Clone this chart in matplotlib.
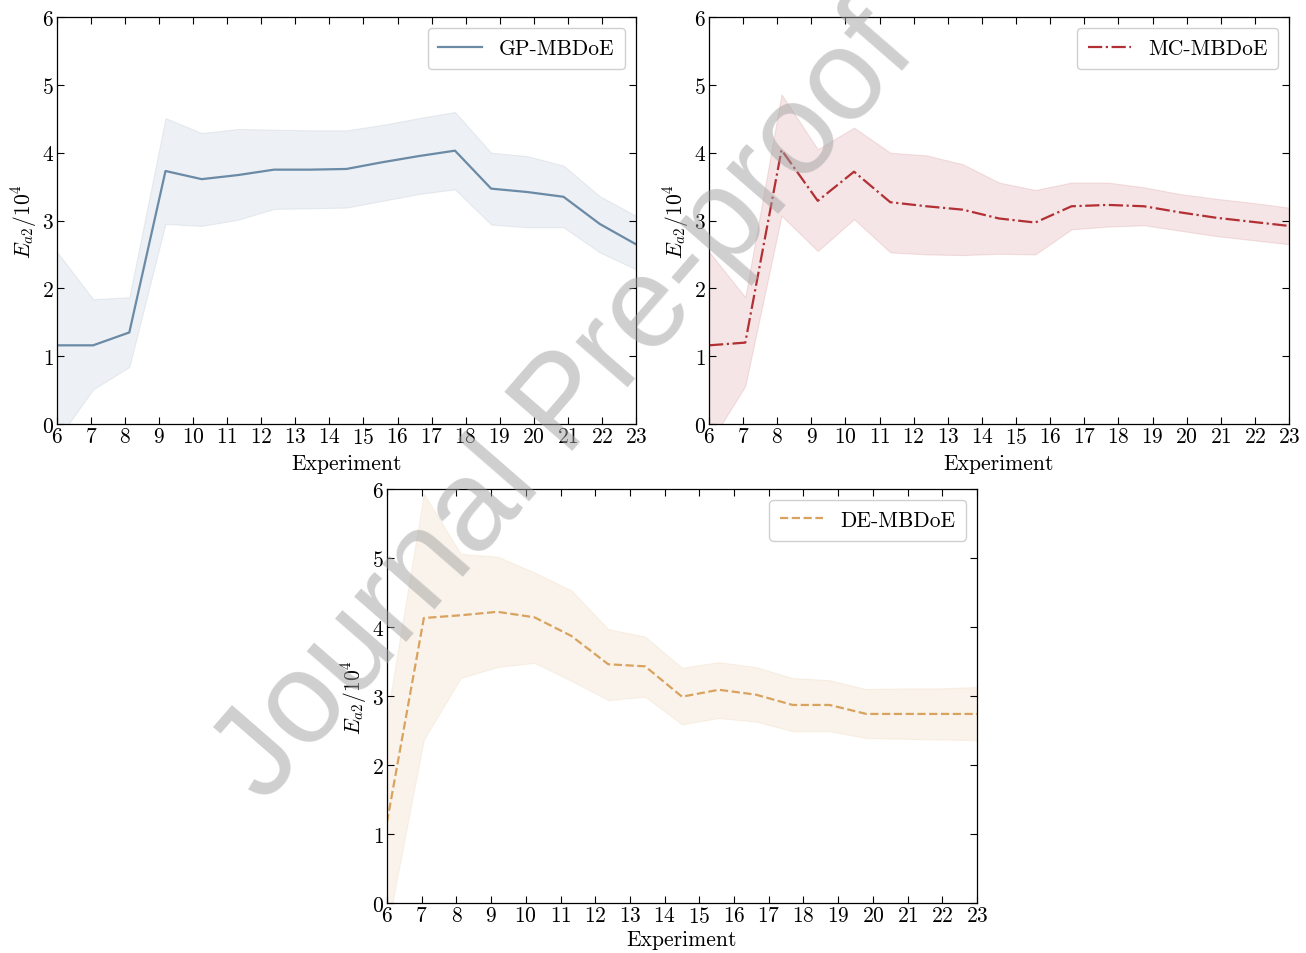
import matplotlib
matplotlib.use("Agg")
import matplotlib.pyplot as plt

# x positions of the runs (17 evaluations spread over experiments 6..23)
runs = [6.0, 7.0625, 8.125, 9.1875, 10.25, 11.3125, 12.375, 13.4375, 14.5,
        15.5625, 16.625, 17.6875, 18.75, 19.8125, 20.875, 21.9375, 23.0]

gp_mean = [1.16, 1.16, 1.35, 3.73, 3.61, 3.67, 3.75, 3.75, 3.76,
           3.86, 3.95, 4.03, 3.47, 3.42, 3.35, 2.95, 2.65]
gp_upper = [2.54, 1.84, 1.87, 4.51, 4.29, 4.35, 4.34, 4.33, 4.33,
            4.41, 4.51, 4.60, 4.00, 3.95, 3.81, 3.36, 3.07]
gp_lower = [-0.24, 0.51, 0.84, 2.95, 2.92, 3.01, 3.17, 3.18, 3.19,
            3.29, 3.39, 3.46, 2.94, 2.90, 2.90, 2.53, 2.28]

mc_mean = [1.16, 1.20, 4.04, 3.29, 3.72, 3.27, 3.21, 3.16, 3.03,
           2.97, 3.21, 3.23, 3.21, 3.12, 3.04, 2.98, 2.92]
mc_upper = [2.54, 1.87, 4.86, 4.05, 4.37, 4.00, 3.96, 3.83, 3.56,
            3.45, 3.56, 3.56, 3.49, 3.39, 3.32, 3.26, 3.19]
mc_lower = [-0.30, 0.56, 3.07, 2.55, 3.02, 2.53, 2.50, 2.49, 2.51,
            2.50, 2.87, 2.91, 2.93, 2.85, 2.77, 2.71, 2.65]

de_mean = [1.17, 4.13, 4.17, 4.22, 4.14, 3.87, 3.46, 3.43, 2.99,
           3.09, 3.02, 2.87, 2.87, 2.74, 2.74, 2.74, 2.74]
de_upper = [2.70, 5.93, 5.06, 5.02, 4.79, 4.53, 3.97, 3.86, 3.41,
            3.49, 3.42, 3.26, 3.23, 3.10, 3.11, 3.11, 3.13]
de_lower = [-0.40, 2.37, 3.26, 3.42, 3.48, 3.22, 2.94, 2.99, 2.59,
            2.68, 2.63, 2.49, 2.49, 2.39, 2.38, 2.37, 2.36]

xticks = list(range(6, 24))
yticks = list(range(0, 7))

plt.rcParams['font.family'] = 'serif'
plt.rcParams['font.serif'] = ['cmr10']
plt.rcParams['mathtext.fontset'] = 'cm'
plt.rcParams['axes.unicode_minus'] = False
plt.rcParams['axes.formatter.use_mathtext'] = True
plt.rcParams['font.size'] = 15.5


def draw_panel(ax, mean, lower, upper, color, style, label, xpad):
    ax.fill_between(runs, lower, upper, color=color, alpha=0.12, linewidth=0.8)
    ax.plot(runs, mean, color=color, linestyle=style, linewidth=1.6, label=label)
    ax.set_xlim(6, 23)
    ax.set_ylim(0, 6)
    ax.set_xticks(xticks)
    ax.set_yticks(yticks)
    ax.tick_params(direction='in', top=True, right=True, length=5, width=0.8,
                   pad=2, labelsize=15.5)
    ax.set_xlabel('Experiment', labelpad=xpad)
    ax.set_ylabel(r'$E_{a2}/10^4$', labelpad=2)
    leg = ax.legend(loc='upper right', fancybox=True, framealpha=1,
                    borderpad=0.5, fontsize=15.5)
    leg.get_frame().set_edgecolor('#d0d0d0')
    for s in ax.spines.values():
        s.set_linewidth(0.9)


fig = plt.figure(figsize=(13.06, 9.54), dpi=100)
ax1 = fig.add_axes([0.0436, 0.5545, 0.4433, 0.4266])
ax2 = fig.add_axes([0.5429, 0.5545, 0.4441, 0.4266])
ax3 = fig.add_axes([0.2963, 0.0524, 0.4518, 0.4340])

draw_panel(ax1, gp_mean, gp_lower, gp_upper, '#6b8aa5', '-', 'GP-MBDoE', 5)
draw_panel(ax2, mc_mean, mc_lower, mc_upper, '#b22f33', '-.', 'MC-MBDoE', 5)
draw_panel(ax3, de_mean, de_lower, de_upper, '#d9a35f', '--', 'DE-MBDoE', 3)

# watermark
fig.text(0.434, 0.574, 'Journal Pre-proof', fontsize=93, rotation=49,
         family='Liberation Sans', color='#a0a0a0', alpha=0.5,
         ha='center', va='center', zorder=100)

fig.savefig('out.png', dpi=100)
